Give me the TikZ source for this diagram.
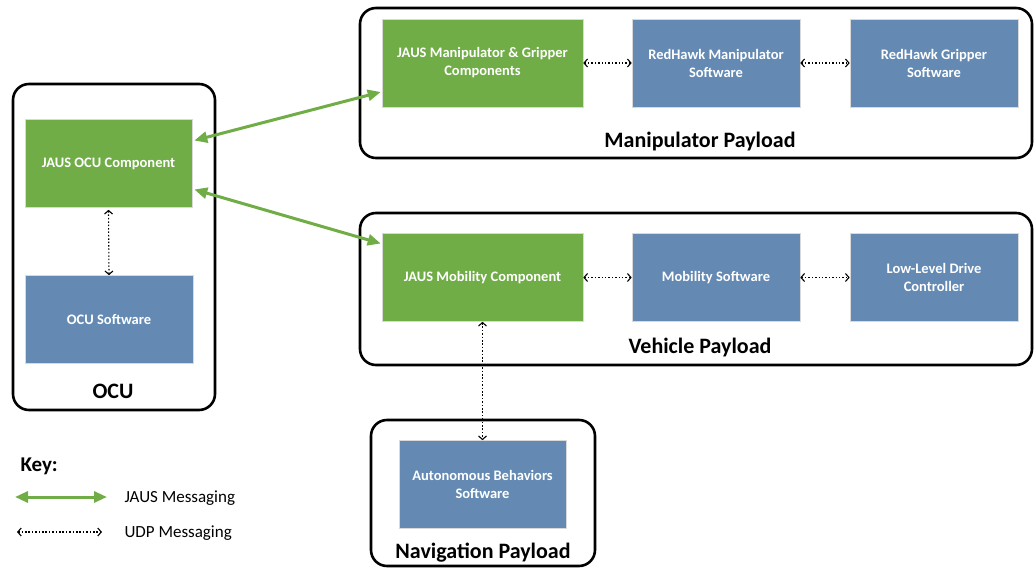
\documentclass[tikz,border=0pt]{standalone}
\usepackage{fontspec}
\setmainfont{Carlito}
\usepackage{tikz}
\usetikzlibrary{arrows.meta,positioning,calc}

\definecolor{jausgreen}{RGB}{112,173,71}
\definecolor{swblue}{RGB}{100,138,180}

\begin{document}
\begin{tikzpicture}[x=1pt, y=-1pt,
  comp/.style={draw=white!85!black, line width=0.6pt, fill=jausgreen, text=white,
    font=\fontsize{14.5}{18}\selectfont\bfseries, align=center, minimum height=88pt},
  soft/.style={comp, fill=swblue, minimum width=168pt},
  payload/.style={draw=black, line width=2.6pt, rounded corners=16pt},
  paylabel/.style={font=\fontsize{22}{26}\selectfont\bfseries},
  jaus/.style={draw=jausgreen, line width=3pt,
    {Triangle[length=13pt,width=11pt]}-{Triangle[length=13pt,width=11pt]}},
  udp/.style={draw=black, line width=1.1pt, dash pattern=on 1.5pt off 1.9pt,
    {Straight Barb[length=3.5pt,width=8pt]}-{Straight Barb[length=3.5pt,width=8pt]}},
  keytext/.style={anchor=west, font=\fontsize{17}{20}\selectfont}]
  \useasboundingbox (0,0) rectangle (1034,569);

  % Payload containers
  \node[payload, minimum width=202pt, minimum height=326pt] (ocu) at (114,247) {};
  \node[payload, minimum width=672pt, minimum height=150pt] (manip) at (696,83) {};
  \node[payload, minimum width=672pt, minimum height=152pt] (vehicle) at (696,289) {};
  \node[payload, minimum width=224pt, minimum height=146pt] (nav) at (483,493) {};

  \node[paylabel] (ocul) at (113,391) {OCU};
  \node[paylabel] (manipl) at (700,142) {Manipulator Payload};
  \node[paylabel] (vehiclel) at (700,348) {Vehicle Payload};
  \node[paylabel] (navl) at (483,553) {Navigation Payload};

  % OCU
  \node[comp, minimum width=167pt] (ocucomp) at (108.5,163.5) {JAUS OCU Component};
  \node[soft] (ocusw) at (109,319.5) {OCU Software};

  % Manipulator payload
  \node[comp, minimum width=201pt] (jmanip) at (482.5,63) {JAUS Manipulator \& Gripper\\Components};
  \node[soft] (rhmanip) at (716,63) {RedHawk Manipulator\\Software};
  \node[soft] (rhgrip) at (934,63) {RedHawk Gripper\\Software};

  % Vehicle payload
  \node[comp, minimum width=201pt] (jmob) at (482.5,277.5) {JAUS Mobility Component};
  \node[soft] (mobsw) at (716,277.5) {Mobility Software};
  \node[soft] (lldrive) at (934,277.5) {Low-Level Drive\\Controller};

  % Navigation payload
  \node[soft, minimum width=167pt] (autob) at (482.5,484.5) {Autonomous Behaviors\\Software};

  % JAUS messaging
  \draw[jaus] ($(ocucomp.east)+(2,-23)$) -- ($(jmanip.west)+(-1,29)$);
  \draw[jaus] ($(ocucomp.east)+(2,26)$) -- ($(jmob.west)+(-1,-34)$);

  % UDP messaging
  \draw[udp] (ocucomp.south) ++(0,2) coordinate (u1) -- (ocusw.north);
  \draw[udp] (jmanip.east) -- (rhmanip.west);
  \draw[udp] (rhmanip.east) -- (rhgrip.west);
  \draw[udp] (jmob.east) -- (mobsw.west);
  \draw[udp] (mobsw.east) -- (lldrive.west);
  \draw[udp] (jmob.south) -- (autob.north);

  % Key
  \node[anchor=west, font=\fontsize{21}{24}\selectfont\bfseries] (key) at (17,466) {Key:};
  \coordinate (k1a) at (15,497);
  \coordinate (k1b) at (107,497);
  \coordinate (k2a) at (17,532);
  \coordinate (k2b) at (102,532);
  \draw[jaus] (k1a) -- (k1b);
  \draw[udp] (k2a) -- (k2b);
  \node[keytext] (k1t) at (121,498) {JAUS Messaging};
  \node[keytext] (k2t) at (121,533) {UDP Messaging};
\end{tikzpicture}
\end{document}
